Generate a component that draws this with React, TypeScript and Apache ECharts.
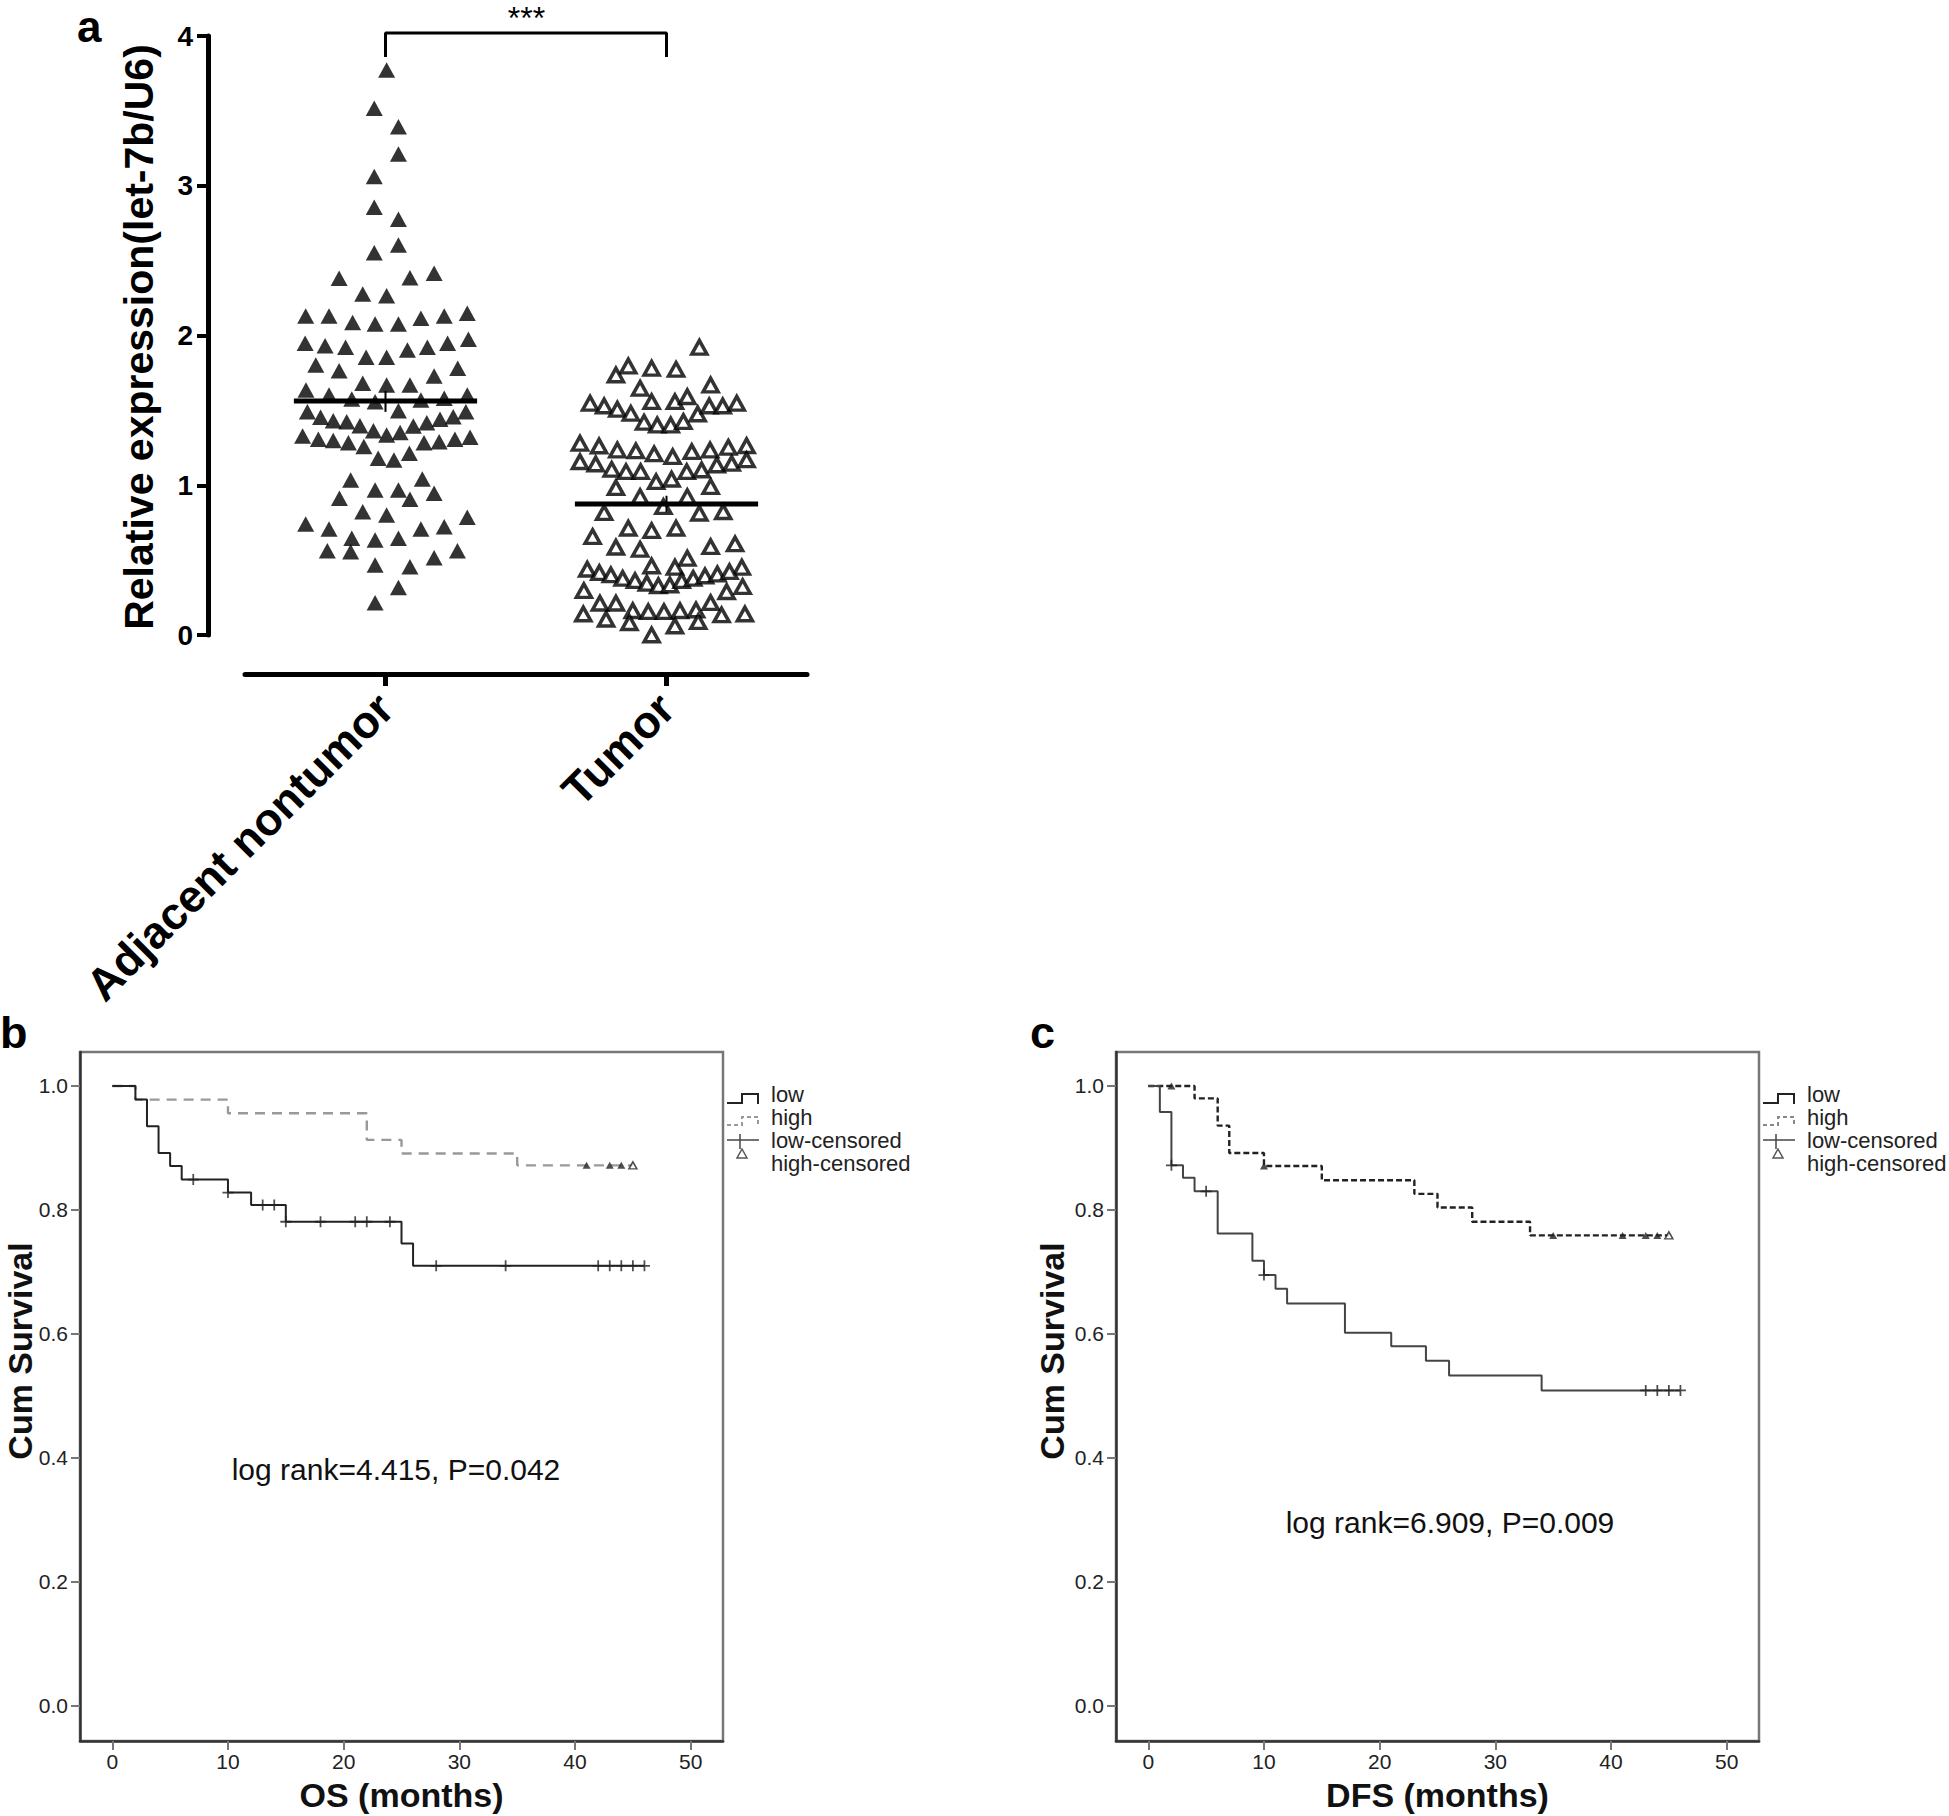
import React, { useEffect, useRef } from 'react';
import * as echarts from 'echarts';

const FONT = '"Liberation Sans", Arial, Helvetica, sans-serif';

// ---------- Panel a: scatter (let-7b relative expression) ----------
const groups = ['Adjacent nontumor', 'Tumor'];
const adjOffset = [0.004,-0.040,0.046,0.046,-0.040,-0.040,0.046,0.046,-0.040,-0.165,
  0.087,0.173,-0.081,0.004,-0.284,-0.201,-0.117,-0.037,0.046,0.126,
  0.209,0.291,-0.286,-0.215,-0.142,-0.069,0.004,0.078,0.149,0.221,
  0.295,-0.248,-0.165,0.173,0.257,-0.283,-0.081,0.004,0.087,-0.201,
  -0.120,-0.037,0.126,0.209,0.291,-0.278,0.046,0.286,-0.231,-0.186,
  -0.138,-0.091,-0.043,0.004,0.052,0.099,0.147,0.194,0.241,-0.295,
  -0.239,-0.186,-0.132,-0.077,0.137,0.191,0.247,0.301,-0.026,0.030,
  0.085,-0.124,0.131,-0.164,-0.037,0.046,0.087,0.173,-0.081,0.004,
  -0.284,-0.201,-0.120,-0.037,0.046,0.126,0.209,0.291,-0.207,-0.124,
  0.173,0.256,-0.037,0.087,0.046,-0.037];
const adjValue = [3.773,3.517,3.394,3.212,3.061,2.856,2.776,2.604,2.553,2.382,
  2.386,2.415,2.277,2.266,2.130,2.130,2.086,2.077,2.077,2.115,
  2.130,2.148,1.948,1.932,1.921,1.854,1.854,1.903,1.921,1.948,
  1.975,1.803,1.765,1.730,1.781,1.636,1.681,1.669,1.669,1.603,
  1.576,1.558,1.569,1.581,1.603,1.491,1.498,1.491,1.454,1.431,
  1.424,1.398,1.364,1.336,1.353,1.396,1.418,1.440,1.458,1.329,
  1.307,1.298,1.284,1.258,1.284,1.291,1.307,1.320,1.180,1.169,
  1.213,1.035,1.042,0.913,0.968,0.968,0.906,0.946,0.823,0.801,
  0.741,0.708,0.646,0.634,0.646,0.708,0.723,0.786,0.563,0.556,
  0.516,0.563,0.467,0.456,0.318,0.216];
const tumOffset = [0.117,-0.136,-0.053,0.034,-0.180,-0.094,0.157,-0.272,-0.222,-0.175,
  -0.127,-0.053,0.030,0.074,0.111,0.152,0.200,0.250,-0.080,-0.033,
  0.015,0.060,-0.308,-0.240,-0.175,-0.109,-0.044,0.022,0.090,0.155,
  0.220,0.285,-0.308,-0.252,-0.195,-0.144,-0.092,-0.037,0.018,0.072,
  0.125,0.179,0.232,0.285,-0.180,0.157,-0.094,0.074,-0.222,-0.011,
  0.117,0.202,-0.136,-0.053,0.034,-0.263,-0.180,-0.094,0.157,0.244,
  -0.053,0.074,0.030,0.268,-0.282,-0.239,-0.198,-0.156,-0.112,-0.070,
  -0.029,0.012,0.054,0.095,0.137,0.181,0.224,-0.294,0.214,0.271,
  -0.237,-0.180,0.157,-0.296,-0.120,-0.065,-0.009,0.048,0.105,0.279,
  -0.215,-0.132,0.030,0.113,0.196,-0.053];
const tumValue = [1.921,1.796,1.781,1.774,1.736,1.647,1.669,1.547,1.529,1.507,
  1.480,1.558,1.558,1.591,1.476,1.529,1.529,1.547,1.420,1.402,
  1.402,1.425,1.280,1.262,1.235,1.229,1.209,1.191,1.224,1.235,
  1.253,1.264,1.157,1.142,1.106,1.091,1.091,1.024,1.040,1.091,
  1.102,1.135,1.146,1.169,0.984,0.991,0.924,0.924,0.817,0.857,
  0.813,0.823,0.713,0.697,0.713,0.657,0.586,0.572,0.590,0.608,
  0.461,0.512,0.452,0.452,0.439,0.416,0.401,0.378,0.363,0.345,
  0.329,0.334,0.363,0.378,0.394,0.407,0.423,0.296,0.289,0.323,
  0.212,0.212,0.216,0.140,0.162,0.156,0.156,0.162,0.167,0.140,
  0.105,0.082,0.060,0.089,0.134,0.000];
const groupMean = [1.563, 0.875];
const groupSem = [[1.49, 1.63], [0.82, 0.93]];
const meanHalfWidth = 0.326;
const bracketLow = 3.86;
const bracketHigh = 4.02;

// ---------- Panel b: OS Kaplan-Meier ----------
const monthTicks = [0, 10, 20, 30, 40, 50];
const survTicks = [0, 0.2, 0.4, 0.6, 0.8, 1.0];
const bLowT = [0, 2, 3, 4, 5, 6, 10, 12, 15, 25, 26, 46];
const bLowS = [1, 0.978, 0.935, 0.892, 0.871, 0.849, 0.828, 0.808, 0.781, 0.746, 0.710, 0.710];
const bLowCens = [7, 10, 13, 14, 15, 18, 21, 22, 24, 28, 34, 42, 43, 44, 45, 46];
const bHighT = [0, 2, 10, 22, 25, 35, 45];
const bHighS = [1, 0.978, 0.956, 0.913, 0.891, 0.872, 0.872];
const bHighCens = [41, 43, 44, 45];

// ---------- Panel c: DFS Kaplan-Meier ----------
const cLowT = [0, 1, 2, 3, 4, 6, 9, 10, 11, 12, 17, 21, 24, 26, 34, 46];
const cLowS = [1, 0.958, 0.872, 0.852, 0.830, 0.762, 0.718, 0.695, 0.673, 0.649, 0.602, 0.580, 0.557, 0.533, 0.509, 0.509];
const cLowCens = [2, 5, 10, 43, 44, 45, 46];
const cHighT = [0, 4, 6, 7, 10, 15, 23, 25, 28, 33, 45];
const cHighS = [1, 0.980, 0.936, 0.892, 0.871, 0.848, 0.826, 0.804, 0.781, 0.759, 0.759];
const cHighCens = [2, 10, 35, 41, 43, 44, 45];

const legendLabels = ['low', 'high', 'low-censored', 'high-censored'];

const CROSS = 'path://M0,4.2H10V5.8H0Z M4.2,0H5.8V10H4.2Z';

function steps(t: number[], s: number[]) {
  return t.map((x, i) => [x, s[i]]);
}
function survAt(t: number[], s: number[], x: number) {
  let v = s[0];
  for (let i = 0; i < t.length; i++) if (t[i] <= x) v = s[i];
  return v;
}

function kmX(gi: number) {
  return {
    gridIndex: gi, type: 'value', min: -2.79, max: 52.79,
    axisLine: { show: true, onZero: false, lineStyle: { color: '#333', width: 2.5 } },
    axisTick: { show: true, customValues: monthTicks, length: 9, lineStyle: { color: '#777', width: 2 } },
    axisLabel: { customValues: monthTicks, fontSize: 21, color: '#222', fontFamily: FONT, margin: 10 },
    splitLine: { show: false },
  };
}
function kmY(gi: number) {
  return {
    gridIndex: gi, type: 'value', min: -0.0565, max: 1.0548,
    axisLine: { show: true, onZero: false, lineStyle: { color: '#333', width: 2.5 } },
    axisTick: { show: true, customValues: survTicks, length: 9, lineStyle: { color: '#777', width: 2 } },
    axisLabel: {
      customValues: survTicks, fontSize: 21, color: '#222', fontFamily: FONT, margin: 12,
      formatter: (v: number) => v.toFixed(1),
    },
    splitLine: { show: false },
  };
}

function kmSeries(
  xi: number, yi: number,
  lowT: number[], lowS: number[], lowCens: number[],
  highT: number[], highS: number[], highCens: number[],
  lowColor: string, highColor: string, dash: number[],
) {
  const last = highCens[highCens.length - 1];
  return [
    {
      type: 'line', xAxisIndex: xi, yAxisIndex: yi, step: 'end', symbol: 'none', silent: true,
      data: steps(highT, highS), lineStyle: { color: highColor, width: 2.4, type: dash }, z: 2,
    },
    {
      type: 'line', xAxisIndex: xi, yAxisIndex: yi, step: 'end', symbol: 'none', silent: true,
      data: steps(lowT, lowS), lineStyle: { color: lowColor, width: 2 }, z: 3,
    },
    {
      type: 'scatter', xAxisIndex: xi, yAxisIndex: yi, symbol: CROSS, symbolSize: 11, silent: true,
      data: lowCens.map((x) => [x, survAt(lowT, lowS, x)]), itemStyle: { color: '#222' }, z: 4,
    },
    {
      type: 'scatter', xAxisIndex: xi, yAxisIndex: yi, symbol: 'triangle', symbolSize: [8, 7], silent: true,
      data: highCens.map((x) => {
        const p = [x, survAt(highT, highS, x)];
        return x === last
          ? { value: p, itemStyle: { color: '#fff', borderColor: '#222', borderWidth: 1.5 } }
          : { value: p, itemStyle: { color: '#222' } };
      }),
      z: 4,
    },
  ];
}

function legend(x0: number, highColor: string) {
  const rows = [1094, 1117, 1140, 1163];
  const els: any[] = [];
  const y1 = rows[0], y2 = rows[1], y3 = rows[2], y4 = rows[3];
  els.push({ type: 'polyline', silent: true, shape: { points: [[x0, y1 + 9], [x0 + 15, y1 + 9], [x0 + 15, y1], [x0 + 31, y1], [x0 + 31, y1 + 10]] }, style: { stroke: '#222', lineWidth: 2, fill: null } });
  els.push({ type: 'polyline', silent: true, shape: { points: [[x0, y2 + 8], [x0 + 15, y2 + 8], [x0 + 15, y2], [x0 + 31, y2], [x0 + 31, y2 + 9]] }, style: { stroke: highColor, lineWidth: 2, fill: null, lineDash: [4, 3] } });
  els.push({ type: 'line', silent: true, shape: { x1: x0, y1: y3, x2: x0 + 32, y2: y3 }, style: { stroke: '#444', lineWidth: 1.5 } });
  els.push({ type: 'line', silent: true, shape: { x1: x0 + 13, y1: y3 - 6, x2: x0 + 13, y2: y3 + 9 }, style: { stroke: '#444', lineWidth: 1.5 } });
  els.push({ type: 'polygon', silent: true, shape: { points: [[x0 + 15, y4 - 14], [x0 + 20, y4 - 5], [x0 + 10, y4 - 5]] }, style: { stroke: '#555', lineWidth: 1.5, fill: '#fff' } });
  legendLabels.forEach((t, i) => {
    els.push({ type: 'text', silent: true, x: x0 + 44, y: rows[i], style: { text: t, fontSize: 22, fontFamily: FONT, fill: '#222', align: 'left', verticalAlign: 'middle' } });
  });
  return els;
}

function txt(text: string, x: number, y: number, size: number, bold: boolean, extra: any = {}) {
  return {
    type: 'text', silent: true, x, y, ...extra,
    style: { text, fontSize: size, fontFamily: FONT, fontWeight: bold ? 'bold' : 'normal', fill: '#111', align: 'center', verticalAlign: 'middle', ...(extra.style || {}) },
  };
}

export default function App() {
  const ref = useRef<HTMLDivElement>(null);
  useEffect(() => {
    if (!ref.current) return;
    const chart = echarts.init(ref.current, null, { renderer: 'svg' });
    const seriesA: any[] = [
      {
        type: 'scatter', xAxisIndex: 1, yAxisIndex: 0, symbol: 'triangle', symbolSize: [17, 15.5], silent: true,
        data: adjOffset.map((d, i) => [1 + d, adjValue[i]]), itemStyle: { color: '#000' },
      },
      {
        type: 'scatter', xAxisIndex: 1, yAxisIndex: 0, symbol: 'triangle', symbolSize: [15, 13.5], silent: true,
        data: tumOffset.map((d, i) => [2 + d, tumValue[i]]),
        itemStyle: { color: '#fff', borderColor: '#000', borderWidth: 3.5 },
      },
    ];
    groupMean.forEach((m, i) => {
      const c = i + 1;
      seriesA.push({
        type: 'line', xAxisIndex: 1, yAxisIndex: 0, symbol: 'none', silent: true, z: 5,
        data: [[c - meanHalfWidth, m], [c + meanHalfWidth, m]], lineStyle: { color: '#000', width: 5 },
      });
      seriesA.push({
        type: 'line', xAxisIndex: 1, yAxisIndex: 0, symbol: 'none', silent: true, z: 5,
        data: [[c, groupSem[i][0]], [c, groupSem[i][1]]], lineStyle: { color: '#000', width: 2 },
      });
    });
    seriesA.push({
      type: 'line', xAxisIndex: 1, yAxisIndex: 0, symbol: 'none', silent: true, clip: false, z: 5,
      data: [[1, bracketLow], [1, bracketHigh], [2, bracketHigh], [2, bracketLow]],
      lineStyle: { color: '#000', width: 3 },
    });

    const option: any = {
      animation: false,
      backgroundColor: '#fff',
      grid: [
        { left: 245, top: 36, width: 562, height: 599 },
        { left: 80, top: 1052, width: 643, height: 689, show: true, borderColor: '#777', borderWidth: 2.5 },
        { left: 1116, top: 1052, width: 643, height: 689, show: true, borderColor: '#777', borderWidth: 2.5 },
      ],
      xAxis: [
        {
          gridIndex: 0, type: 'category', data: groups, offset: 39,
          axisLine: { onZero: false, lineStyle: { color: '#000', width: 5 } },
          axisTick: { show: true, alignWithLabel: true, interval: 0, length: 12, lineStyle: { color: '#000', width: 5 } },
          axisLabel: { rotate: 45, margin: 27, fontSize: 45, fontWeight: 'bold', color: '#000', fontFamily: FONT },
        },
        { gridIndex: 0, type: 'value', min: 0.5, max: 2.5, show: false },
        kmX(1),
        kmX(2),
      ],
      yAxis: [
        {
          gridIndex: 0, type: 'value', min: 0, max: 4, interval: 1, offset: 37,
          axisLine: { show: true, onZero: false, lineStyle: { color: '#000', width: 5 } },
          axisTick: { show: true, length: 11, lineStyle: { color: '#000', width: 4 } },
          axisLabel: { fontSize: 28, fontWeight: 'bold', color: '#000', fontFamily: FONT, margin: 15 },
          splitLine: { show: false },
        },
        kmY(1),
        kmY(2),
      ],
      series: [
        ...seriesA,
        ...kmSeries(2, 1, bLowT, bLowS, bLowCens, bHighT, bHighS, bHighCens, '#222', '#999', [10, 7]),
        ...kmSeries(3, 2, cLowT, cLowS, cLowCens, cHighT, cHighS, cHighCens, '#444', '#222', [6, 3]),
      ],
      graphic: [
        txt('a', 77, 26, 44, true, { style: { align: 'left', fill: '#000' } }),
        txt('b', 0, 1032, 45, true, { style: { align: 'left', fill: '#000' } }),
        txt('c', 1030, 1032, 45, true, { style: { align: 'left', fill: '#000' } }),
        txt('***', 526.5, 18, 32, false, { style: { fill: '#000' } }),
        txt('Relative expression(let-7b/U6)', 139, 337, 41, true, { rotation: Math.PI / 2, style: { fill: '#000' } }),
        txt('Cum Survival', 20, 1351, 34, true, { rotation: Math.PI / 2 }),
        txt('Cum Survival', 1052, 1351, 34, true, { rotation: Math.PI / 2 }),
        txt('OS (months)', 401.5, 1795, 34, true),
        txt('DFS (months)', 1437.5, 1795, 34, true),
        txt('log rank=4.415, P=0.042', 396, 1469, 30, false),
        txt('log rank=6.909, P=0.009', 1450, 1522, 30, false),
        ...legend(727, '#999'),
        ...legend(1763, '#888'),
      ],
    };
    chart.setOption(option);
    return () => chart.dispose();
  }, []);
  return <div ref={ref} style={{ position: 'absolute', left: 0, top: 0, width: 1949, height: 1816, background: '#fff' }} />;
}
